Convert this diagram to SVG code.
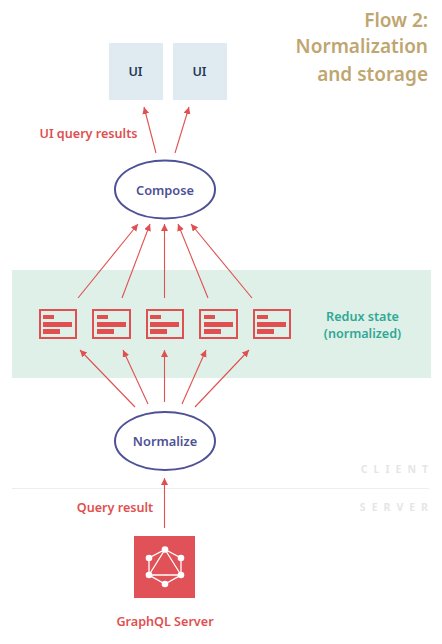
<svg xmlns="http://www.w3.org/2000/svg" width="442" height="644" viewBox="0 0 442 644">
<style>
text{font-family:"Noto Sans","Open Sans","Liberation Sans",sans-serif;font-weight:600}
.t{font-size:19px;fill:#bfa671;text-anchor:end}
.r{font-size:12.600px;fill:#e05050;text-anchor:middle}
.u{font-size:12.600px;fill:#1f3a55;text-anchor:middle}
.b{font-size:12.800px;fill:#4e5196;text-anchor:middle}
.g{font-size:12.600px;fill:#2fa896;text-anchor:middle}
.s{font-size:10.500px;fill:#e6e6e6;font-weight:700;text-anchor:end;letter-spacing:6px}
.box{fill:#dfeaf1}
.el{fill:#fff;stroke:#4e5196;stroke-width:2}
.a{stroke:#e05050;stroke-width:1.100;fill:none;marker-end:url(#arr)}
.o{fill:none;stroke:#e05050;stroke-width:2}
.f{fill:#e05050}
</style>
<defs>
<marker id="arr" markerUnits="userSpaceOnUse" markerWidth="10" markerHeight="10" refX="7" refY="3.500" orient="auto"><path d="M0 0L7 3.500L0 7Z" fill="#e05050"/></marker>
<g id="c"><rect class="o" x="1" y="1" width="36" height="28"/><rect class="f" x="4" y="6" width="11" height="4"/><rect class="f" x="4" y="13" width="29" height="5"/><rect class="f" x="4" y="20" width="17" height="5"/></g>
<g id="w"><rect class="o" x="1" y="1" width="37" height="28"/><rect class="f" x="5" y="6" width="11" height="4"/><rect class="f" x="5" y="13" width="29" height="5"/><rect class="f" x="5" y="20" width="17" height="5"/></g>
</defs>
<g id="state-band"><rect x="12" y="270" width="419" height="108" fill="#dff0e8"/></g>
<g id="divider"><line x1="12" y1="488.500" x2="429" y2="488.500" stroke="#eeeeee"/></g>
<g id="title"><text class="t" x="428" y="27">Flow 2:</text><text class="t" x="428" y="53">Normalization</text><text class="t" x="428" y="81">and storage</text></g>
<g id="connectors">
<line class="a" x1="156" y1="153" x2="144" y2="107"/><line class="a" x1="175" y1="153" x2="189" y2="107"/>
<line class="a" x1="78" y1="298" x2="138" y2="224"/><line class="a" x1="122" y1="298" x2="150" y2="224"/><line class="a" x1="164.500" y1="298" x2="164.500" y2="224"/><line class="a" x1="208" y1="298" x2="178" y2="224"/><line class="a" x1="252" y1="298" x2="191" y2="224"/>
<line class="a" x1="135" y1="407" x2="80" y2="350"/><line class="a" x1="148" y1="404" x2="123" y2="350"/><line class="a" x1="164.500" y1="402" x2="164.500" y2="350"/><line class="a" x1="182" y1="404" x2="206" y2="350"/><line class="a" x1="195" y1="407" x2="249" y2="350"/>
<line class="a" x1="164.500" y1="528" x2="164.500" y2="478"/>
</g>
<g id="ui-1"><rect class="box" x="109" y="43" width="54" height="57"/><text class="u" x="135.500" y="76">UI</text></g>
<g id="ui-2"><rect class="box" x="173" y="43" width="54" height="57"/><text class="u" x="199.500" y="76">UI</text></g>
<g id="ui-query-label"><text class="r" x="88.500" y="138">UI query results</text></g>
<g id="compose"><ellipse class="el" cx="165" cy="189.500" rx="50" ry="29"/><text class="b" x="165" y="195">Compose</text></g>
<g id="card-1"><use href="#c" x="39" y="309"/></g>
<g id="card-2"><use href="#w" x="92" y="309"/></g>
<g id="card-3"><use href="#c" x="146" y="309"/></g>
<g id="card-4"><use href="#w" x="199" y="309"/></g>
<g id="card-5"><use href="#c" x="253" y="309"/></g>
<g id="redux-label"><text class="g" x="362.500" y="321">Redux state</text><text class="g" x="362.500" y="338">(normalized)</text></g>
<g id="normalize"><ellipse class="el" cx="165" cy="441" rx="50" ry="29"/><text class="b" x="165" y="446">Normalize</text></g>
<g id="client-label"><text class="s" x="434" y="473">CLIENT</text></g>
<g id="server-label"><text class="s" x="434" y="511">SERVER</text></g>
<g id="query-result-label"><text class="r" x="115" y="512">Query result</text></g>
<g id="graphql-server"><rect x="134" y="536" width="61" height="62" fill="#e05257"/>
<path d="M165 549.500L181 558V575L165 584L149 575V558ZM165 549.500L181 575H149Z" stroke="#fff" stroke-width="1.300" fill="none"/>
<g fill="#fff"><circle cx="165" cy="549.500" r="3.300"/><circle cx="181" cy="558" r="3.300"/><circle cx="181" cy="575" r="3.300"/><circle cx="165" cy="584" r="3.300"/><circle cx="149" cy="575" r="3.300"/><circle cx="149" cy="558" r="3.300"/></g>
</g>
<g id="graphql-label"><text class="r" x="165" y="626">GraphQL Server</text></g>
</svg>
